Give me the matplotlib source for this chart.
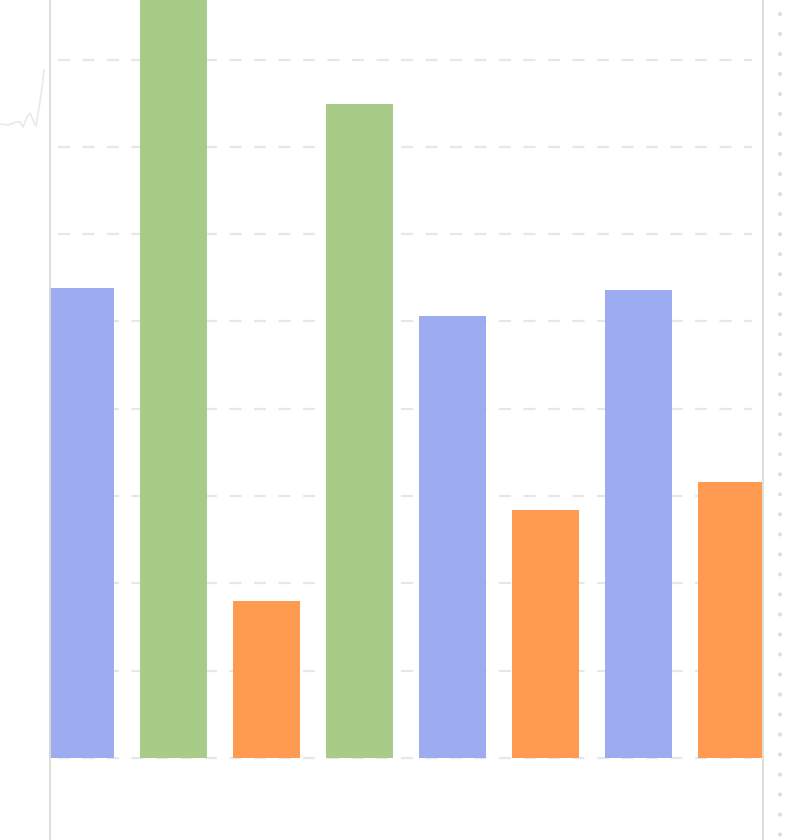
import matplotlib
matplotlib.use("Agg")
import matplotlib.pyplot as plt
from matplotlib.lines import Line2D

categories = ["A", "B", "C", "D", "E", "F", "G", "H"]
values = [5.38, 9.3, 1.80, 7.49, 5.06, 2.84, 5.36, 3.16]
series = ["blue", "green", "orange", "green", "blue", "orange", "blue", "orange"]
palette = {"blue": "#9DABF0", "green": "#A8CB87", "orange": "#FE9B50"}
grid_values = [0, 1, 2, 3, 4, 5, 6, 7, 8]

W, H = 790, 840
fig = plt.figure(figsize=(W / 100, H / 100), dpi=100)
fig.patch.set_facecolor("white")

left_px, right_px = 49, 762
ax = fig.add_axes([left_px / W, 0, (right_px - left_px) / W, 1])

pitch = 93.0
unit_y = 87.3
base_px = 758
x0_px = 80.5
xl = (left_px - x0_px) / pitch
ax.set_xlim(xl, xl + (right_px - left_px) / pitch)
yb = -(H - base_px) / unit_y
ax.set_ylim(yb, yb + H / unit_y)

xs = list(range(len(categories)))
gx0 = (58 - x0_px) / pitch
gx1 = (752 - x0_px) / pitch
glw = 1.6
for g in grid_values:
    ax.plot([gx0, gx1], [g, g], color="#e6e7ea", lw=glw,
            dashes=(8.64 / glw, 9.0 / glw), zorder=1,
            dash_capstyle="butt")

ax.bar(xs, values, width=67 / pitch,
       color=[palette[s] for s in series], zorder=2, linewidth=0)

for s in ax.spines.values():
    s.set_visible(False)
ax.set_xticks([])
ax.set_yticks([])
ax.patch.set_alpha(0)

# frame lines
fig.add_artist(Line2D([49.5 / W, 49.5 / W], [0, 1], color="#dcdcd6", lw=1.3))
fig.add_artist(Line2D([762.5 / W, 762.5 / W], [0, 1], color="#dcdcd6", lw=1.3))
dlw = 3.0
fig.add_artist(Line2D([780 / W, 780 / W], [1 - 14 / H, 0], color="#dedede", lw=dlw,
                      linestyle=(0, (0.01 / dlw, 14.4 / dlw)), dash_capstyle="round"))

# faint squiggle at top-left
sx = [0, 8, 16, 20, 23, 27, 30, 33, 36, 39, 42, 44]
sy = [124, 125, 122, 122, 127, 117, 113, 120, 126, 108, 88, 70]
fig.add_artist(Line2D([v / W for v in sx], [1 - v / H for v in sy],
                      color="#eaeaea", lw=1.3))

fig.savefig("out.png", dpi=100, facecolor="white")
